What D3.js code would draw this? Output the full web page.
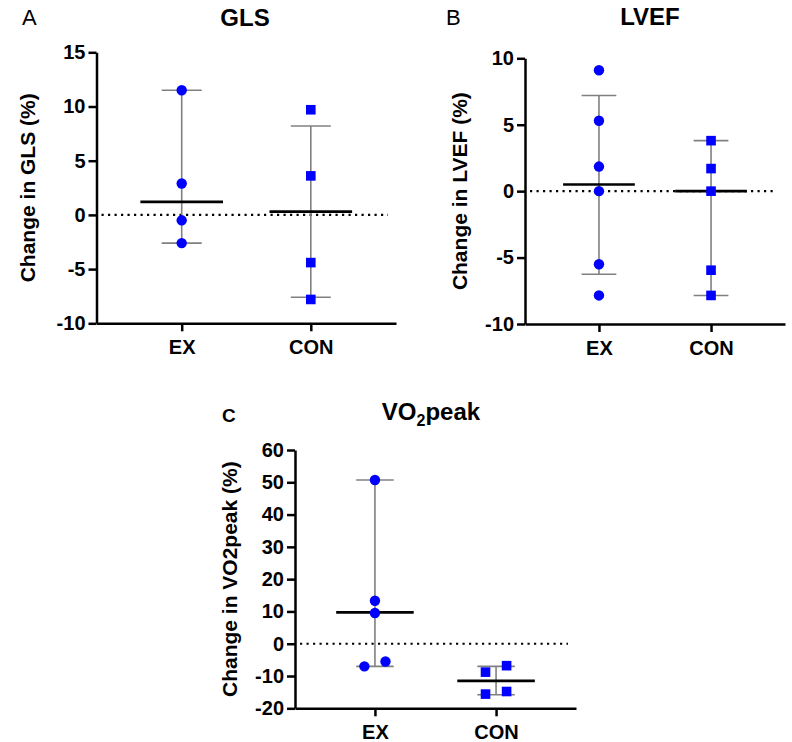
<!DOCTYPE html>
<html>
<head>
<meta charset="utf-8">
<script src="https://cdn.jsdelivr.net/npm/d3@7"></script>
<style>
  body { margin: 0; background: #fff; }
  svg text { font-family: Arial, "Liberation Sans", sans-serif; fill: #000; }
</style>
</head>
<body>
<script>
let groups = ['EX', 'CON'];

// GLS
let glsTicks = [-10, -5, 0, 5, 10, 15];
let glsEx = [11.5, 2.9, -0.5, -2.6];
let glsCon = [9.7, 3.6, -4.4, -7.8];
let glsMean = [1.2, 0.3];
let glsLow = [-2.6, -7.6];
let glsHigh = [11.5, 8.2];

// LVEF
let lvefTicks = [-10, -5, 0, 5, 10];
let lvefEx = [9.1, 5.3, 1.85, 0, -5.5, -7.85];
let lvefCon = [3.8, 1.7, 0, -5.95, -7.85];
let lvefMean = [0.5, 0];
let lvefLow = [-6.25, -7.85];
let lvefHigh = [7.2, 3.8];

// VO2peak (col = side-by-side column of overlapping points)
let vo2Ticks = [-20, -10, 0, 10, 20, 30, 40, 50, 60];
let vo2Ex = [50.7, 13.3, 9.5, -7.0, -5.5];
let vo2ExCol = [0, 0, 0, -1, 1];
let vo2Con = [-8.8, -6.8, -15.6, -14.8];
let vo2ConCol = [-1, 1, -1, 1];
let vo2Mean = [9.7, -11.5];
let vo2Low = [-7.0, -15.8];
let vo2High = [50.7, -7.0];

let svg = d3.select('body').append('svg')
  .attr('width', 792).attr('height', 742);

function drawPanel(p) {
  let x = d3.scalePoint().domain(groups).range([p.left, p.right]).padding(0.66);
  let y = d3.scaleLinear()
    .domain([p.ticks[0], p.ticks[p.ticks.length - 1]])
    .range([p.bottom, p.top]);
  let step = x.step();
  let g = svg.append('g');

  // dotted zero line
  g.append('line')
    .attr('x1', p.left + 5).attr('x2', p.right - 8)
    .attr('y1', y(0)).attr('y2', y(0))
    .attr('stroke', '#000').attr('stroke-width', 2.2)
    .attr('stroke-dasharray', '2.2,4.3');

  // axes
  let yAxis = g.append('g')
    .attr('transform', `translate(${p.left},0)`)
    .call(d3.axisLeft(y).tickValues(p.ticks).tickFormat(d => String(d))
      .tickSize(8).tickSizeOuter(0).tickPadding(3));
  let xAxis = g.append('g')
    .attr('transform', `translate(0,${p.bottom})`)
    .call(d3.axisBottom(x).tickSize(8).tickSizeOuter(0).tickPadding(6));
  [yAxis, xAxis].forEach(a => {
    a.selectAll('path, line').attr('stroke', '#000').attr('stroke-width', 2.5);
    a.selectAll('text').style('font-size', '20px').style('font-weight', 'bold').attr('fill', '#000');
  });
  xAxis.selectAll('text').attr('dy', '0.85em');

  let stats = groups.map((k, i) => ({ k: k, mean: p.mean[i], low: p.low[i], high: p.high[i] }));

  // error bars
  g.selectAll('.whisk').data(stats).enter().append('line')
    .attr('x1', d => x(d.k)).attr('x2', d => x(d.k))
    .attr('y1', d => y(d.low)).attr('y2', d => y(d.high))
    .attr('stroke', '#808080').attr('stroke-width', 1.6);
  ['low', 'high'].forEach(s => {
    g.selectAll('.cap-' + s).data(stats).enter().append('line')
      .attr('x1', d => x(d.k) - step * 0.155).attr('x2', d => x(d.k) + step * 0.155)
      .attr('y1', d => y(d[s])).attr('y2', d => y(d[s]))
      .attr('stroke', '#808080').attr('stroke-width', 1.6);
  });
  // mean lines
  g.selectAll('.mean').data(stats).enter().append('line')
    .attr('x1', d => x(d.k) - step * 0.32).attr('x2', d => x(d.k) + step * 0.32)
    .attr('y1', d => y(d.mean)).attr('y2', d => y(d.mean))
    .attr('stroke', '#000').attr('stroke-width', 2.6);

  // points
  let ex = p.ex.map((v, i) => ({ k: 'EX', v: v, c: p.exCol ? p.exCol[i] : 0 }));
  let con = p.con.map((v, i) => ({ k: 'CON', v: v, c: p.conCol ? p.conCol[i] : 0 }));
  let off = step * 0.087;
  g.selectAll('.dot').data(ex).enter().append('circle')
    .attr('cx', d => x(d.k) + d.c * off).attr('cy', d => y(d.v))
    .attr('r', 5.2).attr('fill', '#0000ff');
  g.selectAll('.sq').data(con).enter().append('rect')
    .attr('x', d => x(d.k) + d.c * off - 4.8).attr('y', d => y(d.v) - 4.8)
    .attr('width', 9.6).attr('height', 9.6).attr('fill', '#0000ff');

  // y label
  g.append('text')
    .attr('transform', `translate(${p.labelX},${(p.top + p.bottom) / 2}) rotate(-90)`)
    .attr('text-anchor', 'middle')
    .style('font-size', '21px').style('font-weight', 'bold')
    .text(p.label);

  // title
  let t = g.append('text')
    .attr('x', p.titleX).attr('y', p.titleY)
    .attr('text-anchor', 'middle')
    .style('font-size', '24px').style('font-weight', 'bold');
  if (p.sub) {
    t.append('tspan').text('VO');
    t.append('tspan').attr('dy', 6).style('font-size', '16px').text('2');
    t.append('tspan').attr('dy', -6).text('peak');
  } else {
    t.text(p.title);
  }

  // panel letter
  g.append('text')
    .attr('x', p.letterX).attr('y', p.letterY)
    .style('font-size', p.letterBold ? '19px' : '22px')
    .style('font-weight', p.letterBold ? 'bold' : 'normal')
    .text(p.letter);
}

drawPanel({
  left: 96.5, right: 396, top: 52.3, bottom: 323.3,
  ticks: glsTicks, ex: glsEx, con: glsCon, mean: glsMean, low: glsLow, high: glsHigh,
  label: 'Change in GLS (%)', labelX: 35,
  title: 'GLS', titleX: 245, titleY: 26,
  letter: 'A', letterX: 22, letterY: 25
});

drawPanel({
  left: 525, right: 785, top: 58.3, bottom: 324,
  ticks: lvefTicks, ex: lvefEx, con: lvefCon, mean: lvefMean, low: lvefLow, high: lvefHigh,
  label: 'Change in LVEF (%)', labelX: 467,
  title: 'LVEF', titleX: 650, titleY: 25,
  letter: 'B', letterX: 446, letterY: 25
});

drawPanel({
  left: 295, right: 576, top: 450, bottom: 708.3,
  ticks: vo2Ticks, ex: vo2Ex, con: vo2Con, exCol: vo2ExCol, conCol: vo2ConCol,
  mean: vo2Mean, low: vo2Low, high: vo2High,
  label: 'Change in VO2peak (%)', labelX: 237,
  sub: true, titleX: 431, titleY: 420,
  letter: 'C', letterX: 222, letterY: 422, letterBold: true
});
</script>
</body>
</html>
